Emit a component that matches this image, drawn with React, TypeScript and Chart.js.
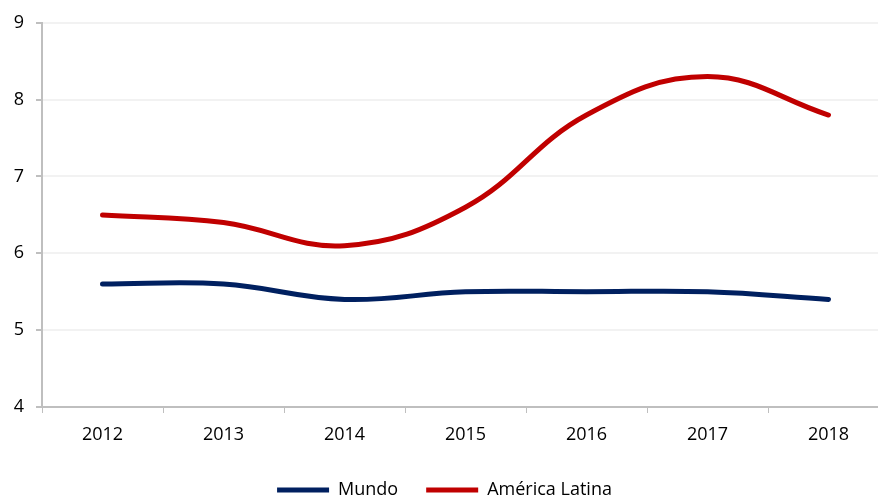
import React, { useEffect, useRef } from "react";
import { Chart, registerables } from "chart.js";

Chart.register(...registerables);

const categories = ["2012", "2013", "2014", "2015", "2016", "2017", "2018"];
const mundo = [5.6, 5.6, 5.4, 5.5, 5.5, 5.5, 5.4];
const americaLatina = [6.5, 6.4, 6.1, 6.6, 7.8, 8.3, 7.8];
const yMin = 4;
const yMax = 9;

export default function App() {
  const ref = useRef<HTMLCanvasElement | null>(null);

  useEffect(() => {
    document.body.style.margin = "0";
    const font = { family: "'Open Sans', sans-serif", size: 18 };
    const chart = new Chart(ref.current as HTMLCanvasElement, {
      type: "line",
      data: {
        labels: categories,
        datasets: [
          {
            label: "Mundo",
            data: mundo,
            borderColor: "#002060",
            backgroundColor: "#002060",
            borderWidth: 5,
            borderCapStyle: "round",
            pointRadius: 0,
            tension: 0.4,
          },
          {
            label: "América Latina",
            data: americaLatina,
            borderColor: "#C00000",
            backgroundColor: "#C00000",
            borderWidth: 5,
            borderCapStyle: "round",
            pointRadius: 0,
            tension: 0.4,
          },
        ],
      },
      options: {
        animation: false,
        responsive: false,
        maintainAspectRatio: false,
        layout: { padding: { top: 22, left: 0, right: 11, bottom: -11 } },
        plugins: {
          tooltip: { enabled: false },
          legend: {
            position: "bottom",
            labels: {
              usePointStyle: true,
              pointStyle: "line",
              pointStyleWidth: 52,
              color: "#000",
              font,
              padding: 28,
            },
          },
        },
        scales: {
          x: {
            offset: true,
            grid: {
              offset: true,
              drawOnChartArea: false,
              drawTicks: true,
              tickLength: 6,
              color: "#BFBFBF",
              tickColor: "#BFBFBF",
            },
            border: { color: "#BFBFBF", width: 2 },
            ticks: { color: "#000", font, padding: 11 },
            afterFit: (s: any) => {
              s.height = 46;
            },
          },
          y: {
            min: yMin,
            max: yMax,
            ticks: { stepSize: 1, color: "#000", font, padding: 12 },
            grid: {
              color: "#F2F2F2",
              lineWidth: 2,
              tickColor: "#BFBFBF",
              tickLength: 6,
            },
            border: { color: "#BFBFBF", width: 2 },
            afterFit: (s: any) => {
              s.width = 42;
            },
          },
        },
      },
    });
    return () => chart.destroy();
  }, []);

  return (
    <div
      style={{
        position: "fixed",
        left: 0,
        top: 0,
        width: 878,
        height: 498,
        overflow: "hidden",
        background: "#fff",
      }}
    >
      <canvas ref={ref} width={900} height={498} style={{ display: "block", width: 900, height: 498 }} />
    </div>
  );
}
